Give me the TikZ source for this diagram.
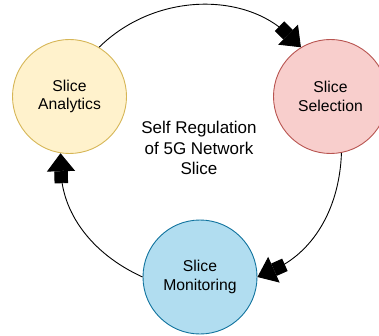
\documentclass[tikz,border=0pt]{standalone}
\usepackage{fontspec}
\setmainfont{Liberation Sans}
\usetikzlibrary{arrows.meta}

\definecolor{anaFill}{HTML}{FFF2CC}
\definecolor{anaLine}{HTML}{D6B656}
\definecolor{selFill}{HTML}{F8CECC}
\definecolor{selLine}{HTML}{B85450}
\definecolor{monFill}{HTML}{B1DDF0}
\definecolor{monLine}{HTML}{10739E}

\tikzset{
  stage/.style={circle, draw, line width=0.9pt, minimum size=114pt, inner sep=0pt,
    align=center, font=\fontsize{15.7}{18.8}\selectfont},
  flow/.style={line width=0.9pt,
    -{Rectangle[width=13.5pt,length=12pt]Triangle[width=28pt,length=18pt]}},
}

\begin{document}
\begin{tikzpicture}[x=1pt,y=1pt]
  \useasboundingbox (0,0) rectangle (379,335);
  \clip (0,0) rectangle (379,335);

  % the three stages of the loop
  \node[stage, fill=anaFill, draw=anaLine] (ana) at (69.5,238.5) {Slice\\Analytics};
  \node[stage, fill=selFill, draw=selLine] (sel) at (330.5,238.5) {Slice\\Selection};
  \node[stage, fill=monFill, draw=monLine] (mon) at (200,58) {Slice\\Monitoring};

  % caption in the middle of the loop
  \node[align=center, font=\fontsize{17}{20.4}\selectfont] (title) at (199,187)
    {Self Regulation\\of 5G Network\\Slice};

  % clockwise arcs joining the stages
  \draw[flow] (ana.59.5) to[bend left=44.5] (sel.121.5);
  \draw[flow] (sel.-79) to[bend left=32] (mon.east);
  \draw[flow] (mon.west) to[bend left=32] (ana.-99);
\end{tikzpicture}
\end{document}
